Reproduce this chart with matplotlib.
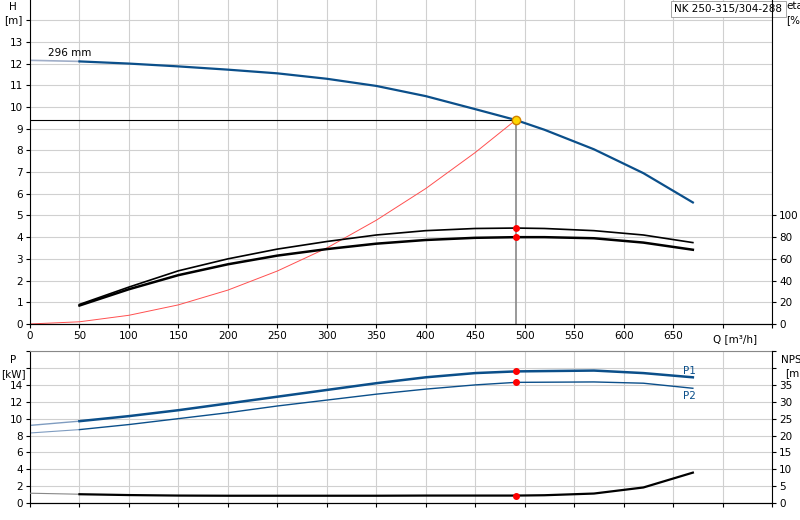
import matplotlib
matplotlib.use("Agg")
import matplotlib.pyplot as plt
import numpy as np

q_h = [0, 50, 100, 150, 200, 250, 300, 350, 400, 450, 491, 520, 570, 620, 670]
h = [12.15, 12.1, 12.0, 11.87, 11.72, 11.55, 11.3, 10.97, 10.5, 9.9, 9.4, 8.95, 8.05, 6.95, 5.6]
q_sys = [0, 50, 100, 150, 200, 250, 300, 350, 400, 450, 491]
h_sys = [0, 0.1, 0.4, 0.88, 1.56, 2.44, 3.5, 4.78, 6.24, 7.9, 9.4]
q_eta = [50, 100, 150, 200, 250, 300, 350, 400, 450, 491, 520, 570, 620, 670]
eta1 = [18, 34, 49, 60, 69, 76, 82, 86, 88, 88.4, 88, 86, 82, 75]
eta2 = [17, 32, 45, 55, 63, 69, 74, 77.4, 79.4, 80, 80, 79, 75, 68.4]
q_p = [0, 50, 100, 150, 200, 250, 300, 350, 400, 450, 491, 570, 620, 670]
p1 = [9.2, 9.7, 10.3, 11.0, 11.8, 12.6, 13.4, 14.2, 14.9, 15.4, 15.6, 15.7, 15.4, 14.9]
p2 = [8.3, 8.7, 9.3, 10.0, 10.7, 11.5, 12.2, 12.9, 13.5, 14.0, 14.3, 14.35, 14.2, 13.6]
q_n = [0, 50, 100, 150, 200, 250, 300, 350, 400, 450, 491, 520, 570, 620, 670]
npsh = [2.9, 2.6, 2.35, 2.2, 2.15, 2.15, 2.15, 2.15, 2.2, 2.2, 2.2, 2.3, 2.8, 4.6, 9.0]
q_op, h_op = 491, 9.4
eta1_op, eta2_op, p1_op, p2_op, npsh_op = 88.4, 80, 15.6, 14.3, 2.2

blue = "#0b4f8a"
grid_c = "#d0d0d0"
fig = plt.figure(figsize=(8, 5.2), dpi=100)
plt.rcParams['font.size'] = 7.5

def split(q, y):
    q = np.array(q); y = np.array(y)
    return q[q <= 50], y[q <= 50], q[q >= 50], y[q >= 50]

L, W = 0.0375, 0.9275
ax = fig.add_axes([L, 0.377, W, 0.623])
ax.set_xlim(0, 750); ax.set_ylim(0, 14.93)
ax.set_xticks(range(0, 751, 50)); ax.set_xticklabels([str(v) for v in range(0, 651, 50)] + ["", ""])
ax.set_yticks(range(0, 15)); ax.set_yticklabels([str(v) for v in range(0, 14)] + [""])
ax.grid(True, color=grid_c, lw=0.8)
for s in ["top", "right"]:
    ax.spines[s].set_visible(False)
a, b, c, d = split(q_h, h)
ax.plot(a, b, color="#a0aec8", lw=1.2)
ax.plot(c, d, color=blue, lw=1.6)
ax.plot(q_sys, h_sys, color="#ff5050", lw=0.7)
ax.plot([0, q_op], [h_op, h_op], color="black", lw=0.8)
ax.plot([q_op, q_op], [0, h_op], color="#888888", lw=1.2)
ax.text(18, 12.35, "296 mm", fontsize=7.5)
ax.text(-17, 14.45, "H", ha="center", fontsize=7.5)
ax.text(-17, 13.85, "[m]", ha="center", fontsize=7.5)
ax.text(690, -0.45, "Q [m³/h]", va="top", fontsize=7.5)
ax.text(706, 14.5, "NK 250-315/304-288", ha="center", va="center", fontsize=7.5,
        bbox=dict(facecolor="white", edgecolor="#999999", lw=0.6, boxstyle="square,pad=0.3"))
ax.tick_params(length=3, pad=2)

ax2 = ax.twinx()
ax2.set_ylim(0, 14.93 * 20)
ax2.set_yticks(range(0, 101, 20))
for s in ["top", "left"]:
    ax2.spines[s].set_visible(False)
ax2.plot(q_eta, eta1, color="black", lw=1.2)
ax2.plot(q_eta, eta2, color="black", lw=1.8)
ax2.plot([q_op, q_op], [eta1_op, eta2_op], "o", color="red", ms=4)
ax2.text(773, 290, "eta", ha="center", fontsize=7.5, clip_on=False)
ax2.text(773, 277, "[%]", ha="center", fontsize=7.5, clip_on=False)
ax2.tick_params(length=3, pad=2)
ax.plot(q_op, h_op, "o", color="#ffd700", mec="#d08000", ms=6, zorder=5)

bx = fig.add_axes([L, 0.0327, W, 0.292])
bx.set_xlim(0, 750); bx.set_ylim(0, 18)
bx.set_xticks(range(0, 751, 50)); bx.set_xticklabels([])
bx.tick_params(axis="x", length=0)
bx.set_yticks(range(0, 19, 2)); bx.set_yticklabels([str(v) for v in range(0, 15, 2)] + ["", ""])
bx.grid(True, color=grid_c, lw=0.8)
a, b, c, d = split(q_p, p1)
bx.plot(a, b, color="#7f9cc0", lw=1.0); bx.plot(c, d, color=blue, lw=1.8)
a, b, c, d = split(q_p, p2)
bx.plot(a, b, color="#7f9cc0", lw=0.8); bx.plot(c, d, color=blue, lw=1.0)
bx.plot([q_op, q_op], [p1_op, p2_op], "o", color="red", ms=4)
bx.text(660, 15.3, "P1", color=blue, fontsize=7.5)
bx.text(660, 12.3, "P2", color=blue, fontsize=7.5)
bx.text(-17, 16.6, "P", ha="center", fontsize=7.5)
bx.text(-17, 14.9, "[kW]", ha="center", fontsize=7.5)
bx.spines["top"].set_color("#888888")
bx.spines["right"].set_visible(False)
bx.tick_params(length=3, pad=2)
bx2 = bx.twinx()
bx2.set_ylim(0, 45)
bx2.set_yticks(range(0, 46, 5)); bx2.set_yticklabels([str(v) for v in range(0, 36, 5)] + ["", ""])
bx2.spines["left"].set_visible(False); bx2.spines["top"].set_visible(False)
a, b, c, d = split(q_n, npsh)
bx2.plot(a, b, color="#888888", lw=0.8); bx2.plot(c, d, color="black", lw=1.6)
bx2.plot(q_op, npsh_op, "o", color="red", ms=4)
bx2.text(773, 41.5, "NPSH", ha="center", fontsize=7.5, clip_on=False)
bx2.text(773, 37.5, "[m]", ha="center", fontsize=7.5, clip_on=False)
bx2.tick_params(length=3, pad=2)

fig.savefig("out.png", dpi=100)
